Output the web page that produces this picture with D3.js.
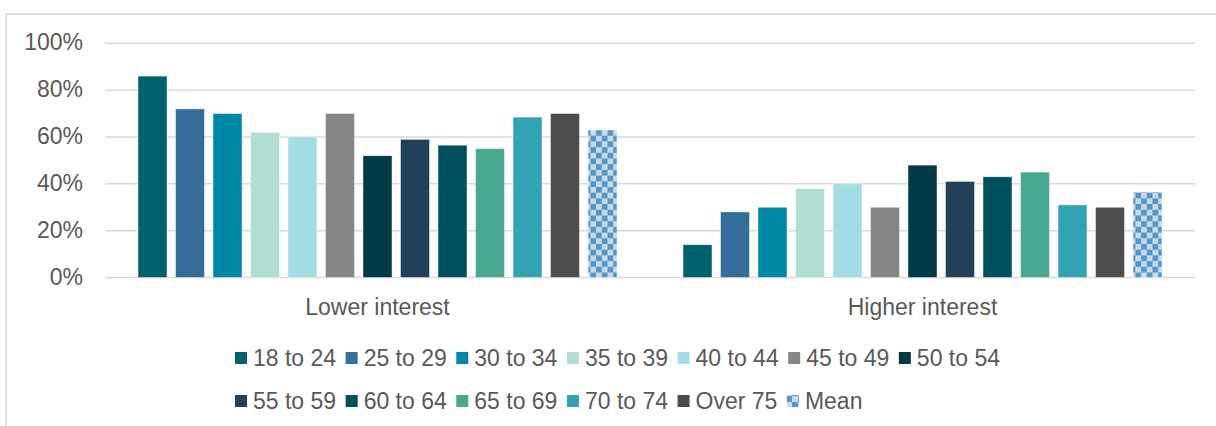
<!DOCTYPE html>
<html>
<head>
<meta charset="utf-8">
<script src="https://cdn.jsdelivr.net/npm/d3@7"></script>
<style>
  body { margin: 0; background: #fff; }
  svg { display: block; font-family: "Liberation Sans", Arial, sans-serif; }
</style>
</head>
<body>
<div id="chart"></div>
<script>
// Data
const categories = ["Lower interest", "Higher interest"];
const seriesNames = ["18 to 24", "25 to 29", "30 to 34", "35 to 39", "40 to 44", "45 to 49", "50 to 54",
    "55 to 59", "60 to 64", "65 to 69", "70 to 74", "Over 75", "Mean"];
const lowerValues = [0.86, 0.72, 0.70, 0.62, 0.60, 0.70, 0.52, 0.59, 0.565, 0.55, 0.685, 0.70, 0.63];
const higherValues = [0.14, 0.28, 0.30, 0.38, 0.40, 0.30, 0.48, 0.41, 0.43, 0.45, 0.31, 0.30, 0.365];
const seriesColors = ["#00616f", "#356e9a", "#0089a6", "#b0ddd4", "#a3dce4", "#858585", "#023a45",
    "#20405c", "#00505f", "#47a990", "#34a2b5", "#4d4d4d", "url(#checker)"];
const yTicks = [0, 0.2, 0.4, 0.6, 0.8, 1.0];
const legendRows = [seriesNames.slice(0, 7), seriesNames.slice(7)];

const width = 1216, height = 426;
const valuesByCat = [lowerValues, higherValues];

const svg = d3.select("#chart").append("svg")
    .attr("width", width)
    .attr("height", height);

// checkerboard fill for the "Mean" series
const defs = svg.append("defs");
const pat = defs.append("pattern")
    .attr("id", "checker")
    .attr("patternUnits", "userSpaceOnUse")
    .attr("x", 588).attr("y", 130)
    .attr("width", 11.4).attr("height", 11.4);
pat.append("rect").attr("width", 11.4).attr("height", 11.4).attr("fill", "#c6dbed");
pat.append("rect").attr("x", 5.7).attr("width", 5.7).attr("height", 5.7).attr("fill", "#5796c8");
pat.append("rect").attr("y", 5.7).attr("width", 5.7).attr("height", 5.7).attr("fill", "#5796c8");

// chart frame (runs off the right and bottom edges)
svg.append("rect")
    .attr("x", 6).attr("y", 14)
    .attr("width", 1230).attr("height", 440)
    .attr("fill", "none")
    .attr("stroke", "#d9d9d9")
    .attr("stroke-width", 1.5);

const x0 = d3.scaleBand().domain(categories).range([105, 1195]);
const x1 = d3.scaleBand().domain(seriesNames).range([0, x0.bandwidth()])
    .paddingInner(0.227).paddingOuter(0.88);
const y = d3.scaleLinear().domain([0, 1]).range([277.5, 43.3]);

// gridlines
svg.append("g").selectAll("line")
    .data(yTicks)
    .join("line")
    .attr("x1", 105).attr("x2", 1195)
    .attr("y1", d => y(d)).attr("y2", d => y(d))
    .attr("stroke", "#d9d9d9")
    .attr("stroke-width", 1.5);

// y tick labels
svg.append("g").selectAll("text")
    .data(yTicks)
    .join("text")
    .attr("x", 83)
    .attr("y", d => y(d) + 1)
    .attr("text-anchor", "end")
    .attr("dominant-baseline", "middle")
    .attr("font-size", 23)
    .attr("fill", "#595959")
    .text(d => d3.format(".0%")(d));

// bars
const groups = svg.append("g").selectAll("g")
    .data(categories)
    .join("g")
    .attr("transform", d => `translate(${x0(d)},0)`);

groups.selectAll("rect")
    .data((d, i) => seriesNames.map((s, j) => ({ s, j, v: valuesByCat[i][j] })))
    .join("rect")
    .attr("x", d => x1(d.s))
    .attr("y", d => y(d.v))
    .attr("width", x1.bandwidth())
    .attr("height", d => y(0) - y(d.v))
    .attr("fill", d => seriesColors[d.j])
    .attr("stroke", "#ffffff")
    .attr("stroke-opacity", 0.6)
    .attr("stroke-width", 0.75);

// category labels
svg.append("g").selectAll("text")
    .data(categories)
    .join("text")
    .attr("x", d => x0(d) + x0.bandwidth() / 2)
    .attr("y", 315)
    .attr("text-anchor", "middle")
    .attr("font-size", 23)
    .attr("fill", "#595959")
    .text(d => d);

// legend, two rows, left aligned
const legend = svg.append("g");
legendRows.forEach((row, r) => {
    let lx = 235;
    const rowY = 358 + r * 43;
    row.forEach(name => {
        const j = seriesNames.indexOf(name);
        legend.append("rect")
            .attr("x", lx).attr("y", rowY - 6)
            .attr("width", 12).attr("height", 12)
            .attr("fill", name === "Mean" ? "url(#checkerSmall)" : seriesColors[j]);
        const t = legend.append("text")
            .attr("x", lx + 18)
            .attr("y", rowY + 8)
            .attr("font-size", 23)
            .attr("fill", "#595959")
            .text(name);
        lx += 18 + t.node().getComputedTextLength() + 9.5;
    });
});

// smaller checker for the legend swatch
const pat2 = defs.append("pattern")
    .attr("id", "checkerSmall")
    .attr("patternUnits", "userSpaceOnUse")
    .attr("width", 12).attr("height", 12);
pat2.append("rect").attr("width", 12).attr("height", 12).attr("fill", "#c6dbed");
pat2.append("rect").attr("x", 6).attr("width", 6).attr("height", 6).attr("fill", "#5796c8");
pat2.append("rect").attr("y", 6).attr("width", 6).attr("height", 6).attr("fill", "#5796c8");
</script>
</body>
</html>
